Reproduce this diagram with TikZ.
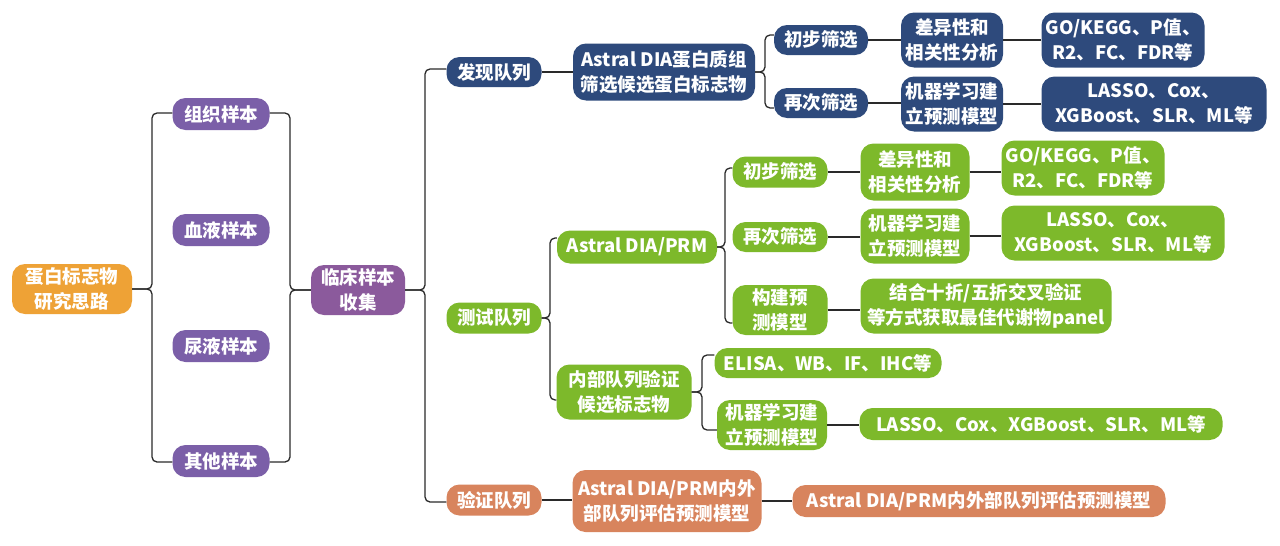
\documentclass[tikz,border=0pt]{standalone}
\usepackage{fontspec}
\setmainfont{Noto Sans CJK SC}
\definecolor{cOrg}{HTML}{EEA236}
\definecolor{cPur}{HTML}{7B5FA8}
\definecolor{cMag}{HTML}{8B5A9C}
\definecolor{cBlu}{HTML}{2E4A7C}
\definecolor{cGrn}{HTML}{7DB92B}
\definecolor{cRst}{HTML}{D8845D}
\definecolor{cLine}{HTML}{2A2A2A}
\begin{document}
\begin{tikzpicture}[x=1pt,y=-1pt,
  box/.style={rounded corners=13pt, text=white, font=\bfseries\fontsize{18.5}{24.5}\selectfont, align=center, inner sep=1pt},
  wh/.style 2 args={minimum width=#1pt, minimum height=#2pt},
  conn/.style={draw=cLine, line width=1.3pt},
  brc/.style={conn, rounded corners=5pt}]
\useasboundingbox[fill=white] (0,0) rectangle (1280,546);
% level 0-2
\node[box, fill=cOrg, wh={120}{50}] (root) at (72,289) {蛋白标志物\\研究思路};
\node[box, fill=cPur, wh={97}{32}] (s1) at (221,114) {组织样本};
\node[box, fill=cPur, wh={97}{32}] (s2) at (221,230) {血液样本};
\node[box, fill=cPur, wh={97}{32}] (s3) at (221,346) {尿液样本};
\node[box, fill=cPur, wh={97}{32}] (s4) at (221,461) {其他样本};
\node[box, fill=cMag, wh={94}{50}] (clin) at (358,290) {临床样本\\收集};
% cohorts
\node[box, fill=cBlu, wh={95}{30}] (d) at (494,72) {发现队列};
\node[box, fill=cGrn, wh={95}{31}] (t) at (494,318) {测试队列};
\node[box, fill=cRst, wh={95}{31}] (v) at (494,500) {验证队列};
% discovery
\node[box, fill=cBlu, wh={182}{57}] (dA) at (664,72) {Astral DIA蛋白质组\\筛选候选蛋白标志物};
\node[box, fill=cBlu, wh={94}{30}] (d1) at (821,40) {初步筛选};
\node[box, fill=cBlu, wh={94}{30}] (d2) at (821,103) {再次筛选};
\node[box, fill=cBlu, wh={102}{55}] (d1a) at (952,40) {差异性和\\相关性分析};
\node[box, fill=cBlu, wh={163}{55}] (d1b) at (1123,40) {GO/KEGG、P值、\\R2、FC、FDR等};
\node[box, fill=cBlu, wh={102}{55}] (d2a) at (952,104) {机器学习建\\立预测模型};
\node[box, fill=cBlu, wh={225}{55}] (d2b) at (1154,104) {LASSO、Cox、\\XGBoost、SLR、ML等};
% test
\node[box, fill=cGrn, wh={160}{33}] (tA) at (637,247) {Astral DIA/PRM};
\node[box, fill=cGrn, wh={95}{31}] (t1) at (780,172) {初步筛选};
\node[box, fill=cGrn, wh={95}{30}] (t2) at (780,237) {再次筛选};
\node[box, fill=cGrn, wh={95}{50}] (t3) at (780,310) {构建预\\测模型};
\node[box, fill=cGrn, wh={109}{57}] (t1a) at (915,172) {差异性和\\相关性分析};
\node[box, fill=cGrn, wh={163}{55}] (t1b) at (1083,168) {GO/KEGG、P值、\\R2、FC、FDR等};
\node[box, fill=cGrn, wh={109}{55}] (t2a) at (915,236) {机器学习建\\立预测模型};
\node[box, fill=cGrn, wh={223}{55}] (t2b) at (1113,233) {LASSO、Cox、\\XGBoost、SLR、ML等};
\node[box, fill=cGrn, wh={251}{55}] (t3a) at (986,306) {结合十折/五折交叉验证\\等方式获取最佳代谢物panel};
\node[box, fill=cGrn, wh={135}{55}] (tI) at (624,392) {内部队列验证\\候选标志物};
\node[box, fill=cGrn, wh={227}{30}] (tI1) at (828,363) {ELISA、WB、IF、IHC等};
\node[box, fill=cGrn, wh={110}{50}] (tI2) at (772,425) {机器学习建\\立预测模型};
\node[box, fill=cGrn, wh={363}{32}] (tI2a) at (1041,424) {LASSO、Cox、XGBoost、SLR、ML等};
% validation
\node[box, fill=cRst, wh={189}{62}] (vA) at (667,501) {Astral DIA/PRM内外\\部队列评估预测模型};
\node[box, fill=cRst, wh={373}{32}] (vAa) at (979,501) {Astral DIA/PRM内外部队列评估预测模型};
% straight connectors
\foreach \a/\b in {d/dA, d1/d1a, d1a/d1b, d2/d2a, d2a/d2b, t1/t1a, t1a/t1b, t2/t2a, t2a/t2b, t3/t3a, tI2/tI2a, v/vA, vA/vAa}
  \draw[conn] (\a.east) -- (\a.east -| \b.west);
% braces
\coordinate (b1t) at (152,113); \coordinate (b1b) at (152,462);
\draw[brc] (s1.west |- b1t) -- (b1t) -- (b1t |- root.east) -- (root.east);
\draw[brc] (s4.west |- b1b) -- (b1b) -- (b1b |- root.east) -- (root.east);
\coordinate (b2t) at (290,113); \coordinate (b2b) at (290,462);
\draw[brc] (s1.east |- b2t) -- (b2t) -- (b2t |- clin.west) -- (clin.west);
\draw[brc] (s4.east |- b2b) -- (b2b) -- (b2b |- clin.west) -- (clin.west);
\coordinate (b3t) at (425,69); \coordinate (b3b) at (425,502);
\draw[brc] (d.west |- b3t) -- (b3t) -- (b3t |- clin.east) -- (clin.east);
\draw[brc] (v.west |- b3b) -- (b3b) -- (b3b |- clin.east) -- (clin.east);
\coordinate (b4t) at (765,35); \coordinate (b4b) at (765,108);
\draw[brc] (d1.west |- b4t) -- (b4t) -- (b4t |- dA.east) -- (dA.east);
\draw[brc] (d2.west |- b4b) -- (b4b) -- (b4b |- dA.east) -- (dA.east);
\coordinate (b5t) at (550,238); \coordinate (b5b) at (550,400);
\draw[brc] (tA.west |- b5t) -- (b5t) -- (b5t |- t.east) -- (t.east);
\draw[brc] (tI.west |- b5b) -- (b5b) -- (b5b |- t.east) -- (t.east);
\coordinate (b6t) at (725,168); \coordinate (b6b) at (725,323);
\draw[brc] (t1.west |- b6t) -- (b6t) -- (b6t |- tA.east) -- (tA.east);
\draw[brc] (t3.west |- b6b) -- (b6b) -- (b6b |- tA.east) -- (tA.east);
\coordinate (b7t) at (702,355); \coordinate (b7b) at (702,430);
\draw[brc] (tI1.west |- b7t) -- (b7t) -- (b7t |- tI.east) -- (tI.east);
\draw[brc] (tI2.west |- b7b) -- (b7b) -- (b7b |- tI.east) -- (tI.east);
\end{tikzpicture}
\end{document}
